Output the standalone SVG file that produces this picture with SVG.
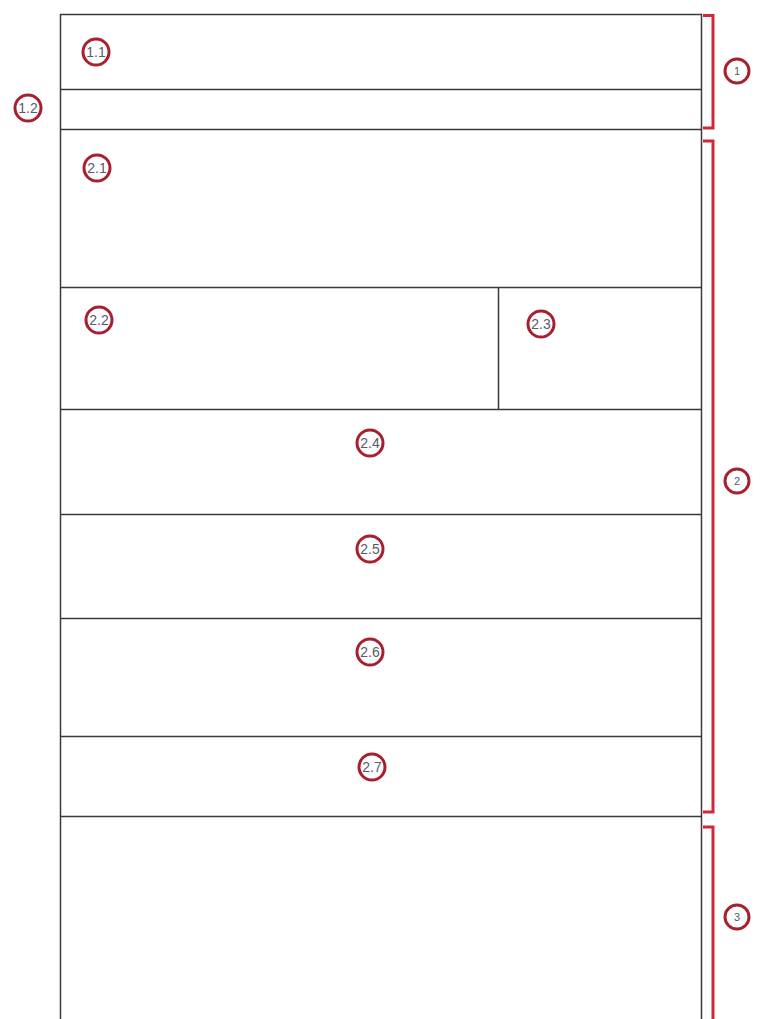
<svg xmlns="http://www.w3.org/2000/svg" width="761" height="1019" viewBox="0 0 761 1019">
<style>
.ln{stroke:#3a3a3a;stroke-width:1.5;fill:none}
.br{stroke:#d0283a;stroke-width:3;fill:none}
.cc{stroke:#a8202e;stroke-width:3;fill:#fff}
.tx{font-family:"Liberation Sans",Arial,sans-serif;font-size:14px;fill:#5a5a6a;text-anchor:middle;dominant-baseline:central}
.tn{font-size:11px}
</style>
<rect width="761" height="1019" fill="#fff"/>
<g id="layout">
<path class="ln" d="M60.5,1019 V14.5 H701.5 V1019"/>
<path class="ln" d="M60 89.5 H701 M60 129.5 H701 M60 287.5 H701 M60 409.5 H701 M60 514.5 H701 M60 618.5 H701 M60 736.5 H701 M60 816.5 H701 M498.5 287 V409"/>
</g>
<g id="brackets">
<path class="br" d="M703,15.5 H713 V128 H703"/>
<path class="br" d="M703,141 H713 V812 H703"/>
<path class="br" d="M703,827 H713 V1019"/>
</g>
<g id="n1-1"><circle class="cc" cx="96" cy="52" r="13"/><text class="tx" x="96" y="52">1.1</text></g>
<g id="n1-2"><circle class="cc" cx="28" cy="108" r="13"/><text class="tx" x="28" y="108">1.2</text></g>
<g id="n2-1"><circle class="cc" cx="97" cy="168" r="13"/><text class="tx" x="97" y="168">2.1</text></g>
<g id="n2-2"><circle class="cc" cx="99" cy="320" r="13"/><text class="tx" x="99" y="320">2.2</text></g>
<g id="n2-3"><circle class="cc" cx="541" cy="324" r="13"/><text class="tx" x="541" y="324">2.3</text></g>
<g id="n2-4"><circle class="cc" cx="370" cy="443" r="13"/><text class="tx" x="370" y="443">2.4</text></g>
<g id="n2-5"><circle class="cc" cx="370" cy="549" r="13"/><text class="tx" x="370" y="549">2.5</text></g>
<g id="n2-6"><circle class="cc" cx="370" cy="652" r="13"/><text class="tx" x="370" y="652">2.6</text></g>
<g id="n2-7"><circle class="cc" cx="372" cy="767" r="13"/><text class="tx" x="372" y="767">2.7</text></g>
<g id="n1"><circle class="cc" cx="737" cy="71" r="12"/><text class="tx tn" x="737" y="71">1</text></g>
<g id="n2"><circle class="cc" cx="737" cy="481" r="12"/><text class="tx tn" x="737" y="481">2</text></g>
<g id="n3"><circle class="cc" cx="737" cy="917" r="12"/><text class="tx tn" x="737" y="917">3</text></g>
</svg>
